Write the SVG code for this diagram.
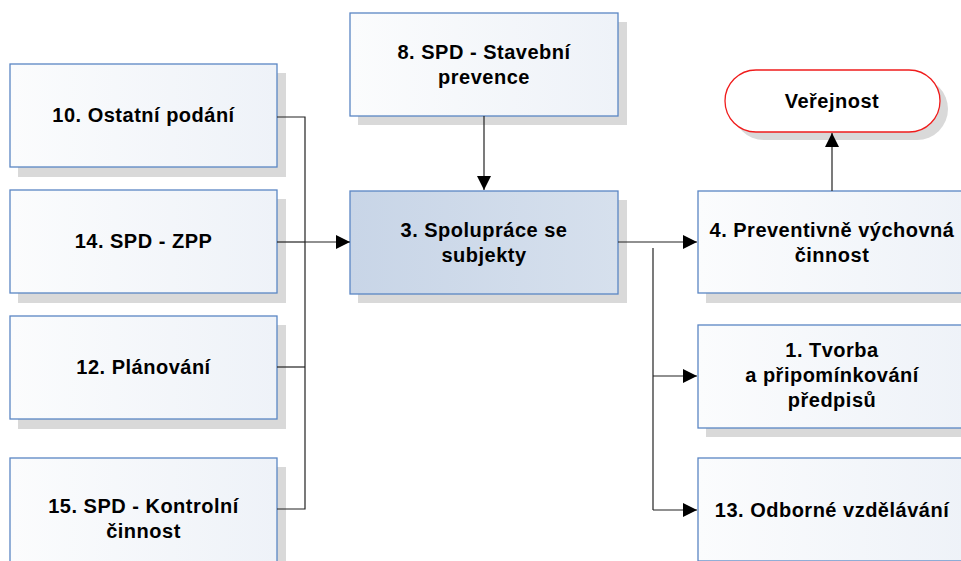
<svg xmlns="http://www.w3.org/2000/svg" width="961" height="561" viewBox="0 0 961 561">
<defs>
<linearGradient id="gBox" x1="0" y1="0" x2="1" y2="0">
<stop offset="0" stop-color="#fbfcfd"/>
<stop offset="1" stop-color="#eef2f8"/>
</linearGradient>
<linearGradient id="gBlue" x1="0" y1="0" x2="1" y2="0">
<stop offset="0" stop-color="#c8d5e7"/>
<stop offset="1" stop-color="#d6e0ed"/>
</linearGradient>
<marker id="arr" viewBox="0 0 14 14" refX="14" refY="7" markerWidth="14" markerHeight="14" markerUnits="userSpaceOnUse" orient="auto">
<path d="M0,0 L14,7 L0,14 Z" fill="#000"/>
</marker>
</defs>
<style>
.sh{fill:#d9d9d9}
.box{fill:url(#gBox);stroke:#5a86c4;stroke-width:1.3}
.blue{fill:url(#gBlue);stroke:#5a86c4;stroke-width:1.3}
.pill{fill:#fff;stroke:#f01c1c;stroke-width:1.3}
text{font-family:"Liberation Sans",Arial,sans-serif;font-weight:bold;font-size:20px;letter-spacing:0.5px;fill:#000;text-anchor:middle}
.c{fill:none;stroke:#222;stroke-width:1.2}
.ca{fill:none;stroke:#222;stroke-width:1.2;marker-end:url(#arr)}
</style>
<rect width="961" height="561" fill="#fff"/>

<g id="n10">
<rect class="sh" x="18" y="73" width="268" height="104"/>
<rect class="box" x="10" y="64" width="267" height="103"/>
<text x="143.5" y="122">10. Ostatní podání</text>
</g>
<g id="n14">
<rect class="sh" x="18" y="199" width="268" height="104"/>
<rect class="box" x="10" y="190" width="267" height="103"/>
<text x="143.5" y="248">14. SPD - ZPP</text>
</g>
<g id="n12">
<rect class="sh" x="18" y="325" width="268" height="104"/>
<rect class="box" x="10" y="316" width="267" height="103"/>
<text x="143.5" y="374">12. Plánování</text>
</g>
<g id="n15">
<rect class="sh" x="18" y="467" width="268" height="120"/>
<rect class="box" x="10" y="458" width="267" height="120"/>
<text x="143.5" y="513">15. SPD - Kontrolní</text>
<text x="143.5" y="538">činnost</text>
</g>
<g id="n8">
<rect class="sh" x="358" y="22" width="269" height="103"/>
<rect class="box" x="350" y="13" width="268" height="103"/>
<text x="484" y="59">8. SPD - Stavební</text>
<text x="484" y="84">prevence</text>
</g>
<g id="n3">
<rect class="sh" x="358" y="200" width="269" height="103"/>
<rect class="blue" x="350" y="191" width="268" height="103"/>
<text x="484" y="237">3. Spolupráce se</text>
<text x="484" y="262">subjekty</text>
</g>
<g id="nVerejnost">
<rect class="sh" x="733" y="78" width="215" height="62" rx="31"/>
<rect class="pill" x="725" y="70" width="215" height="62" rx="31"/>
<text x="832" y="108">Veřejnost</text>
</g>
<g id="n4">
<rect class="sh" x="706" y="200" width="268" height="103"/>
<rect class="box" x="698" y="191" width="268" height="102"/>
<text x="832" y="237">4. Preventivně výchovná</text>
<text x="832" y="262">činnost</text>
</g>
<g id="n1">
<rect class="sh" x="706" y="334" width="268" height="103"/>
<rect class="box" x="698" y="325" width="268" height="103"/>
<text x="832" y="357">1. Tvorba</text>
<text x="832" y="382">a připomínkování</text>
<text x="832" y="407">předpisů</text>
</g>
<g id="n13">
<rect class="sh" x="706" y="467" width="268" height="103"/>
<rect class="box" x="698" y="458" width="268" height="103"/>
<text x="832" y="517">13. Odborné vzdělávání</text>
</g>

<g id="connectors">
<path class="c" d="M277,117 H305 V509 H277"/>
<path class="c" d="M277,242 H305"/>
<path class="c" d="M277,367 H305"/>
<path class="ca" d="M305,242 H350"/>
<path class="ca" d="M484,116 V190"/>
<path class="ca" d="M618,242 H697"/>
<path class="c" d="M653,248 V510"/>
<path class="ca" d="M653,376 H697"/>
<path class="ca" d="M653,510 H697"/>
<path class="ca" d="M832,191 V133"/>
</g>
</svg>
